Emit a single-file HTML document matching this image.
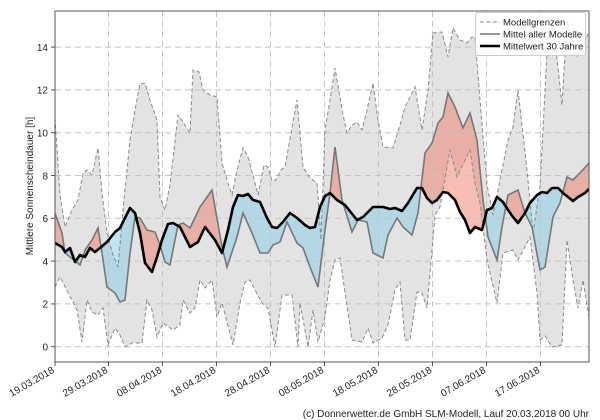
<!DOCTYPE html>
<html><head><meta charset="utf-8"><style>
html,body{margin:0;padding:0;background:#fff;width:600px;height:420px;overflow:hidden}
text{font-family:"Liberation Sans","DejaVu Sans",sans-serif;fill:#222}
</style></head><body>
<svg width="600" height="420" viewBox="0 0 600 420" xmlns="http://www.w3.org/2000/svg">
<defs>
<clipPath id="plot"><rect x="55" y="11" width="534" height="351"/></clipPath>
<clipPath id="above"><polygon points="55,0 55,243 62,247 65,252 70,248 75,262 80,255 85,257 90,248 95,252 100,248 107,242 115,232 120,228 125,218 130,208 135,213 140,233 145,263 152,272 157,257 162,240 168,224 173,223 180,227 190,247 198,242 205,227 215,240 222,253 228,230 233,207 238,195 243,196 248,194 253,200 260,202 267,218 272,227 277,228 282,223 290,213 297,218 305,225 310,228 315,227 320,207 325,196 330,193 337,200 345,205 357,220 363,217 373,207 383,207 390,209 395,208 402,211 408,203 417,188 422,188 427,198 432,203 437,200 443,192 448,193 455,200 460,212 465,220 470,233 475,227 482,230 487,210 492,208 497,197 503,202 508,210 513,217 518,223 525,213 530,203 537,195 542,192 547,193 552,188 558,188 563,193 568,197 573,201 578,197 585,193 590,188 590,0"/></clipPath>
<clipPath id="below"><polygon points="55,420 55,243 62,247 65,252 70,248 75,262 80,255 85,257 90,248 95,252 100,248 107,242 115,232 120,228 125,218 130,208 135,213 140,233 145,263 152,272 157,257 162,240 168,224 173,223 180,227 190,247 198,242 205,227 215,240 222,253 228,230 233,207 238,195 243,196 248,194 253,200 260,202 267,218 272,227 277,228 282,223 290,213 297,218 305,225 310,228 315,227 320,207 325,196 330,193 337,200 345,205 357,220 363,217 373,207 383,207 390,209 395,208 402,211 408,203 417,188 422,188 427,198 432,203 437,200 443,192 448,193 455,200 460,212 465,220 470,233 475,227 482,230 487,210 492,208 497,197 503,202 508,210 513,217 518,223 525,213 530,203 537,195 542,192 547,193 552,188 558,188 563,193 568,197 573,201 578,197 585,193 590,188 590,420"/></clipPath>
</defs>
<g clip-path="url(#plot)">
<polygon fill="#e3e3e3" points="55,118 60,195 65,227 72,210 78,200 83,173 87,170 92,175 98,148 102,193 107,233 113,255 118,267 124,200 130,140 135,110 140,84 145,83 150,100 157,120 160,197 165,210 170,185 178,115 183,122 190,133 193,70 199,72 203,90 210,95 217,97 222,163 228,183 232,195 237,170 243,148 248,157 253,175 258,195 264,165 268,167 272,181 276,180 281,170 285,167 297,100 303,167 310,178 317,183 321,240 325,130 330,100 335,68 342,110 347,133 352,125 357,122 362,130 367,110 373,83 378,120 383,147 393,148 400,125 405,107 415,87 422,130 428,90 433,33 442,32 448,57 453,28 460,40 467,43 472,37 475,37 480,100 487,185 493,215 500,180 508,140 513,127 518,90 527,170 533,233 540,187 548,33 555,40 562,105 567,20 577,57 583,45 590,30 590,317 589,317 583,280 578,308 573,280 567,240 562,345 552,347 545,336 540,340 537,293 530,237 518,260 513,250 503,253 497,303 487,260 480,203 475,183 470,150 457,177 450,150 440,207 435,215 427,308 422,293 417,292 410,340 405,340 400,282 395,290 388,325 382,338 373,343 368,328 362,342 352,340 340,258 335,260 330,280 325,317 318,342 313,310 308,347 300,303 298,347 292,295 282,295 275,347 268,308 262,303 255,290 250,280 245,282 240,303 233,345 222,303 217,317 212,280 205,288 200,280 195,308 190,313 183,300 180,325 173,330 163,323 157,337 152,310 147,300 142,343 132,343 125,347 120,335 115,328 108,345 103,308 98,315 92,312 87,300 82,342 77,310 60,277 55,287"/>
<polygon fill="rgba(235,110,90,0.45)" clip-path="url(#above)" points="55,213 62,233 65,253 80,265 85,250 92,240 98,228 102,253 107,287 115,293 120,302 125,300 130,253 135,217 140,218 147,230 155,232 160,245 165,262 170,265 175,240 178,225 183,223 190,228 200,207 205,200 212,190 222,247 227,267 237,237 243,213 252,233 260,253 268,253 273,245 280,242 287,222 297,243 303,248 310,267 318,287 325,230 330,193 335,147 342,200 352,232 358,220 367,222 373,253 383,258 388,235 397,218 403,227 412,235 418,213 425,153 432,143 438,123 443,117 448,93 455,107 463,128 470,113 477,140 483,200 488,237 497,260 502,227 508,195 518,190 525,213 532,227 540,270 545,267 553,217 560,203 567,177 573,180 580,173 590,162 590,188 585,193 578,197 573,201 568,197 563,193 558,188 552,188 547,193 542,192 537,195 530,203 525,213 518,223 513,217 508,210 503,202 497,197 492,208 487,210 482,230 475,227 470,233 465,220 460,212 455,200 448,193 443,192 437,200 432,203 427,198 422,188 417,188 408,203 402,211 395,208 390,209 383,207 373,207 363,217 357,220 345,205 337,200 330,193 325,196 320,207 315,227 310,228 305,225 297,218 290,213 282,223 277,228 272,227 267,218 260,202 253,200 248,194 243,196 238,195 233,207 228,230 222,253 215,240 205,227 198,242 190,247 180,227 173,223 168,224 162,240 157,257 152,272 145,263 140,233 135,213 130,208 125,218 120,228 115,232 107,242 100,248 95,252 90,248 85,257 80,255 75,262 70,248 65,252 62,247 55,243"/>
<polygon fill="rgba(140,205,232,0.55)" clip-path="url(#below)" points="55,213 62,233 65,253 80,265 85,250 92,240 98,228 102,253 107,287 115,293 120,302 125,300 130,253 135,217 140,218 147,230 155,232 160,245 165,262 170,265 175,240 178,225 183,223 190,228 200,207 205,200 212,190 222,247 227,267 237,237 243,213 252,233 260,253 268,253 273,245 280,242 287,222 297,243 303,248 310,267 318,287 325,230 330,193 335,147 342,200 352,232 358,220 367,222 373,253 383,258 388,235 397,218 403,227 412,235 418,213 425,153 432,143 438,123 443,117 448,93 455,107 463,128 470,113 477,140 483,200 488,237 497,260 502,227 508,195 518,190 525,213 532,227 540,270 545,267 553,217 560,203 567,177 573,180 580,173 590,162 590,188 585,193 578,197 573,201 568,197 563,193 558,188 552,188 547,193 542,192 537,195 530,203 525,213 518,223 513,217 508,210 503,202 497,197 492,208 487,210 482,230 475,227 470,233 465,220 460,212 455,200 448,193 443,192 437,200 432,203 427,198 422,188 417,188 408,203 402,211 395,208 390,209 383,207 373,207 363,217 357,220 345,205 337,200 330,193 325,196 320,207 315,227 310,228 305,225 297,218 290,213 282,223 277,228 272,227 267,218 260,202 253,200 248,194 243,196 238,195 233,207 228,230 222,253 215,240 205,227 198,242 190,247 180,227 173,223 168,224 162,240 157,257 152,272 145,263 140,233 135,213 130,208 125,218 120,228 115,232 107,242 100,248 95,252 90,248 85,257 80,255 75,262 70,248 65,252 62,247 55,243"/>
<g stroke="#c4c4c4" stroke-width="1" stroke-dasharray="6,4">
<line x1="55" x2="589" y1="346.7" y2="346.7"/><line x1="55" x2="589" y1="303.9" y2="303.9"/><line x1="55" x2="589" y1="261.1" y2="261.1"/><line x1="55" x2="589" y1="218.3" y2="218.3"/><line x1="55" x2="589" y1="175.5" y2="175.5"/><line x1="55" x2="589" y1="132.7" y2="132.7"/><line x1="55" x2="589" y1="89.9" y2="89.9"/><line x1="55" x2="589" y1="47.1" y2="47.1"/>
<line y1="11" y2="362" x1="108.5" x2="108.5"/><line y1="11" y2="362" x1="162.5" x2="162.5"/><line y1="11" y2="362" x1="216.5" x2="216.5"/><line y1="11" y2="362" x1="270.5" x2="270.5"/><line y1="11" y2="362" x1="324.5" x2="324.5"/><line y1="11" y2="362" x1="378.5" x2="378.5"/><line y1="11" y2="362" x1="432.5" x2="432.5"/><line y1="11" y2="362" x1="486.5" x2="486.5"/><line y1="11" y2="362" x1="540.5" x2="540.5"/>
</g>
<g fill="none" stroke="#8a8a8a" stroke-width="1" stroke-dasharray="4,2.5">
<polyline points="55,118 60,195 65,227 72,210 78,200 83,173 87,170 92,175 98,148 102,193 107,233 113,255 118,267 124,200 130,140 135,110 140,84 145,83 150,100 157,120 160,197 165,210 170,185 178,115 183,122 190,133 193,70 199,72 203,90 210,95 217,97 222,163 228,183 232,195 237,170 243,148 248,157 253,175 258,195 264,165 268,167 272,181 276,180 281,170 285,167 297,100 303,167 310,178 317,183 321,240 325,130 330,100 335,68 342,110 347,133 352,125 357,122 362,130 367,110 373,83 378,120 383,147 393,148 400,125 405,107 415,87 422,130 428,90 433,33 442,32 448,57 453,28 460,40 467,43 472,37 475,37 480,100 487,185 493,215 500,180 508,140 513,127 518,90 527,170 533,233 540,187 548,33 555,40 562,105 567,20 577,57 583,45 590,30"/>
<polyline points="55,287 60,277 77,310 82,342 87,300 92,312 98,315 103,308 108,345 115,328 120,335 125,347 132,343 142,343 147,300 152,310 157,337 163,323 173,330 180,325 183,300 190,313 195,308 200,280 205,288 212,280 217,317 222,303 233,345 240,303 245,282 250,280 255,290 262,303 268,308 275,347 282,295 292,295 298,347 300,303 308,347 313,310 318,342 325,317 330,280 335,260 340,258 352,340 362,342 368,328 373,343 382,338 388,325 395,290 400,282 405,340 410,340 417,292 422,293 427,308 435,215 440,207 450,150 457,177 470,150 475,183 480,203 487,260 497,303 503,253 513,250 518,260 530,237 537,293 540,340 545,336 552,347 562,345 567,240 573,280 578,308 583,280 589,317"/>
</g>
<polyline fill="none" stroke="#777" stroke-width="1.6" points="55,213 62,233 65,253 80,265 85,250 92,240 98,228 102,253 107,287 115,293 120,302 125,300 130,253 135,217 140,218 147,230 155,232 160,245 165,262 170,265 175,240 178,225 183,223 190,228 200,207 205,200 212,190 222,247 227,267 237,237 243,213 252,233 260,253 268,253 273,245 280,242 287,222 297,243 303,248 310,267 318,287 325,230 330,193 335,147 342,200 352,232 358,220 367,222 373,253 383,258 388,235 397,218 403,227 412,235 418,213 425,153 432,143 438,123 443,117 448,93 455,107 463,128 470,113 477,140 483,200 488,237 497,260 502,227 508,195 518,190 525,213 532,227 540,270 545,267 553,217 560,203 567,177 573,180 580,173 590,162"/>
<polyline fill="none" stroke="#000" stroke-width="2.6" stroke-linejoin="round" points="55,243 62,247 65,252 70,248 75,262 80,255 85,257 90,248 95,252 100,248 107,242 115,232 120,228 125,218 130,208 135,213 140,233 145,263 152,272 157,257 162,240 168,224 173,223 180,227 190,247 198,242 205,227 215,240 222,253 228,230 233,207 238,195 243,196 248,194 253,200 260,202 267,218 272,227 277,228 282,223 290,213 297,218 305,225 310,228 315,227 320,207 325,196 330,193 337,200 345,205 357,220 363,217 373,207 383,207 390,209 395,208 402,211 408,203 417,188 422,188 427,198 432,203 437,200 443,192 448,193 455,200 460,212 465,220 470,233 475,227 482,230 487,210 492,208 497,197 503,202 508,210 513,217 518,223 525,213 530,203 537,195 542,192 547,193 552,188 558,188 563,193 568,197 573,201 578,197 585,193 590,188"/>
</g>
<rect x="55" y="11" width="534" height="351" fill="none" stroke="#555" stroke-width="1"/>
<g stroke="#555"><line x1="51" x2="55" y1="346.7" y2="346.7"/><line x1="51" x2="55" y1="303.9" y2="303.9"/><line x1="51" x2="55" y1="261.1" y2="261.1"/><line x1="51" x2="55" y1="218.3" y2="218.3"/><line x1="51" x2="55" y1="175.5" y2="175.5"/><line x1="51" x2="55" y1="132.7" y2="132.7"/><line x1="51" x2="55" y1="89.9" y2="89.9"/><line x1="51" x2="55" y1="47.1" y2="47.1"/>
<line y1="362" y2="366" x1="55" x2="55"/><line y1="362" y2="366" x1="108.5" x2="108.5"/><line y1="362" y2="366" x1="162.5" x2="162.5"/><line y1="362" y2="366" x1="216.5" x2="216.5"/><line y1="362" y2="366" x1="270.5" x2="270.5"/><line y1="362" y2="366" x1="324.5" x2="324.5"/><line y1="362" y2="366" x1="378.5" x2="378.5"/><line y1="362" y2="366" x1="432.5" x2="432.5"/><line y1="362" y2="366" x1="486.5" x2="486.5"/><line y1="362" y2="366" x1="540.5" x2="540.5"/></g>
<g font-size="10" text-anchor="end">
<text x="48" y="350.5">0</text><text x="48" y="307.7">2</text><text x="48" y="264.9">4</text><text x="48" y="222.1">6</text><text x="48" y="179.3">8</text><text x="48" y="136.5">10</text><text x="48" y="93.7">12</text><text x="48" y="50.9">14</text>
</g>
<text font-size="10" text-anchor="middle" transform="translate(33,186) rotate(-90)">Mittlere Sonnenscheindauer [h]</text>
<g font-size="10" text-anchor="end">
<text transform="translate(55,372) rotate(-30)">19.03.2018</text>
<text transform="translate(108.5,372) rotate(-30)">29.03.2018</text>
<text transform="translate(162.5,372) rotate(-30)">08.04.2018</text>
<text transform="translate(216.5,372) rotate(-30)">18.04.2018</text>
<text transform="translate(270.5,372) rotate(-30)">28.04.2018</text>
<text transform="translate(324.5,372) rotate(-30)">08.05.2018</text>
<text transform="translate(378.5,372) rotate(-30)">18.05.2018</text>
<text transform="translate(432.5,372) rotate(-30)">28.05.2018</text>
<text transform="translate(486.5,372) rotate(-30)">07.06.2018</text>
<text transform="translate(540.5,372) rotate(-30)">17.06.2018</text>
</g>
<text x="589" y="417" font-size="10" text-anchor="end">(c) Donnerwetter.de GmbH SLM-Modell, Lauf 20.03.2018 00 Uhr</text>
<rect x="475.5" y="12.5" width="110" height="43" rx="2" fill="#fff" fill-opacity="0.85" stroke="#ccc"/>
<line x1="480" x2="500" y1="22" y2="22" stroke="#888" stroke-dasharray="4,2.5"/>
<line x1="480" x2="500" y1="34" y2="34" stroke="#777" stroke-width="1.6"/>
<line x1="480" x2="500" y1="46" y2="46" stroke="#000" stroke-width="2.6"/>
<g font-size="9.5"><text x="503" y="25.5">Modellgrenzen</text><text x="503" y="37.5">Mittel aller Modelle</text><text x="503" y="49.5">Mittelwert 30 Jahre</text></g>
</svg>
</body></html>
